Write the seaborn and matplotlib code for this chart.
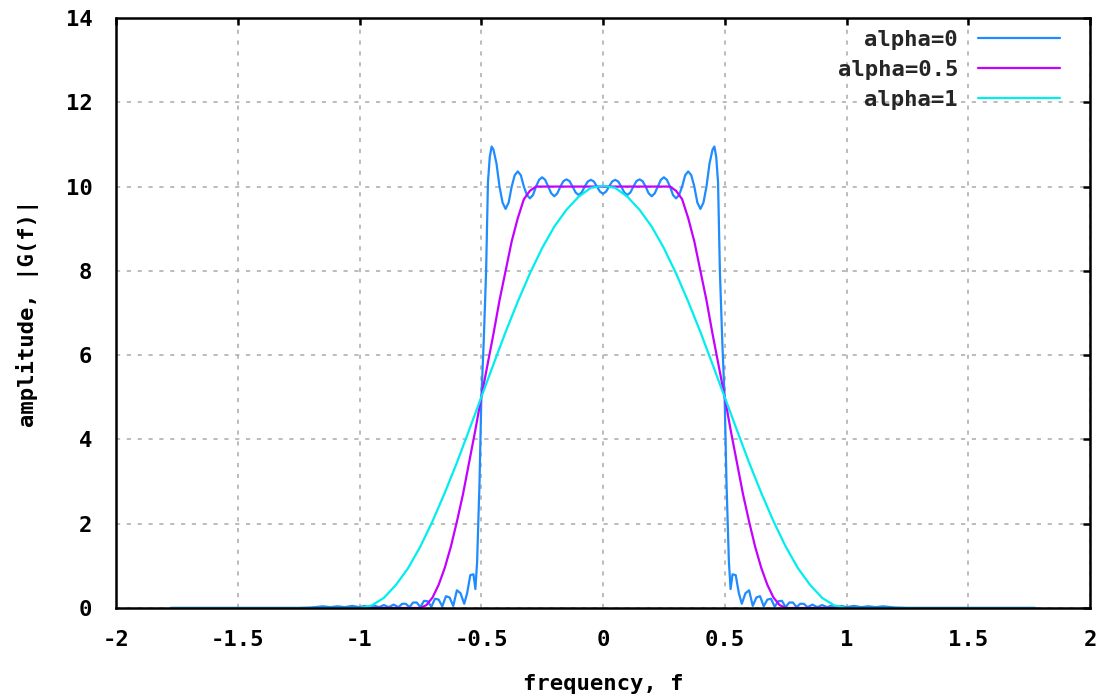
import matplotlib
matplotlib.use("Agg")
import matplotlib.pyplot as plt
import pandas as pd
import seaborn as sns

# ---------------- data ----------------
f_a0 = [-1.775, -1.25, -1.2, -1.15, -1.12, -1.09, -1.06, -1.03, -1.0, -0.98, -0.96, -0.94,
        -0.92, -0.9, -0.88, -0.86, -0.84, -0.825, -0.81, -0.795, -0.78, -0.765, -0.75,
        -0.735, -0.72, -0.705, -0.69, -0.675, -0.66, -0.645, -0.63, -0.615, -0.6, -0.585,
        -0.57, -0.558, -0.545, -0.532, -0.524, -0.517, -0.507, -0.5, -0.49, -0.48, -0.4725,
        -0.465, -0.4575, -0.45, -0.4375, -0.425, -0.4125, -0.4, -0.3875, -0.375, -0.3625,
        -0.35, -0.3375, -0.325, -0.3125, -0.3, -0.2875, -0.275, -0.2625, -0.25, -0.2375,
        -0.225, -0.2125, -0.2, -0.1875, -0.175, -0.1625, -0.15, -0.1375, -0.125, -0.1125,
        -0.1, -0.0875, -0.075, -0.0625, -0.05, -0.0375, -0.025, -0.0125, 0.0,
        0.0125, 0.025, 0.0375, 0.05, 0.0625, 0.075, 0.0875, 0.1, 0.1125, 0.125, 0.1375,
        0.15, 0.1625, 0.175, 0.1875, 0.2, 0.2125, 0.225, 0.2375, 0.25, 0.2625, 0.275,
        0.2875, 0.3, 0.3125, 0.325, 0.3375, 0.35, 0.3625, 0.375, 0.3875, 0.4, 0.4125,
        0.425, 0.4375, 0.45, 0.4575, 0.465, 0.4725, 0.48, 0.49, 0.5, 0.507, 0.517, 0.524,
        0.532, 0.545, 0.558, 0.57, 0.585, 0.6, 0.615, 0.63, 0.645, 0.66, 0.675, 0.69,
        0.705, 0.72, 0.735, 0.75, 0.765, 0.78, 0.795, 0.81, 0.825, 0.84, 0.86, 0.88, 0.9,
        0.92, 0.94, 0.96, 0.98, 1.0, 1.03, 1.06, 1.09, 1.12, 1.15, 1.2, 1.25, 1.775]
amp_a0 = [0.0, 0.0, 0.01, 0.04, 0.02, 0.04, 0.02, 0.05, 0.02, 0.05, 0.02, 0.06, 0.02, 0.07,
          0.02, 0.08, 0.02, 0.1, 0.1, 0.02, 0.13, 0.13, 0.02, 0.17, 0.16, 0.03, 0.22, 0.2,
          0.04, 0.28, 0.25, 0.05, 0.42, 0.35, 0.1, 0.35, 0.78, 0.8, 0.45, 1.1, 3.0, 4.9,
          6.3, 8.0, 10.1, 10.7, 10.95, 10.88, 10.55, 10.0, 9.62, 9.47, 9.62, 10.0, 10.27,
          10.36, 10.27, 10.0, 9.8, 9.72, 9.8, 10.0, 10.16, 10.22, 10.16, 10.0, 9.84, 9.77,
          9.84, 10.0, 10.13, 10.17, 10.13, 10.0, 9.86, 9.80, 9.86, 10.0, 10.12, 10.16,
          10.12, 10.0, 9.88, 9.83,
          9.88, 10.0, 10.12, 10.16, 10.12, 10.0, 9.86, 9.80, 9.86, 10.0, 10.13, 10.17,
          10.13, 10.0, 9.84, 9.77, 9.84, 10.0, 10.16, 10.22, 10.16, 10.0, 9.8, 9.72, 9.8,
          10.0, 10.27, 10.36, 10.27, 10.0, 9.62, 9.47, 9.62, 10.0, 10.55, 10.88, 10.95,
          10.7, 10.1, 8.0, 6.3, 4.9, 3.0, 1.1, 0.45, 0.8, 0.78, 0.35, 0.1, 0.35, 0.42,
          0.05, 0.25, 0.28, 0.04, 0.2, 0.22, 0.03, 0.16, 0.17, 0.02, 0.13, 0.13, 0.02, 0.1,
          0.1, 0.02, 0.08, 0.02, 0.07, 0.02, 0.06, 0.02, 0.05, 0.02, 0.05, 0.02, 0.04,
          0.02, 0.04, 0.01, 0.0, 0.0]

f_a05 = [-1.775, -0.75, -0.725, -0.7, -0.675, -0.65, -0.625, -0.6, -0.575, -0.55, -0.525,
         -0.5, -0.475, -0.45, -0.425, -0.4, -0.375, -0.35, -0.325, -0.3, -0.275,
         0.275, 0.3, 0.325, 0.35, 0.375, 0.4, 0.425, 0.45, 0.475, 0.5, 0.525, 0.55,
         0.575, 0.6, 0.625, 0.65, 0.675, 0.7, 0.725, 0.75, 1.775]
amp_a05 = [0.0, 0.0, 0.07, 0.25, 0.55, 0.95, 1.45, 2.05, 2.7, 3.45, 4.2, 5.0, 5.75, 6.5,
           7.3, 8.0, 8.7, 9.25, 9.7, 9.9, 10.0,
           10.0, 9.9, 9.7, 9.25, 8.7, 8.0, 7.3, 6.5, 5.75, 5.0, 4.2, 3.45, 2.7, 2.05,
           1.45, 0.95, 0.55, 0.25, 0.07, 0.0, 0.0]

f_a1 = [-1.775, -1.0, -0.95, -0.9, -0.85, -0.8, -0.75, -0.7, -0.65, -0.6, -0.55, -0.5,
        -0.45, -0.4, -0.35, -0.3, -0.25, -0.2, -0.15, -0.1, -0.05, 0.0, 0.05, 0.1, 0.15,
        0.2, 0.25, 0.3, 0.35, 0.4, 0.45, 0.5, 0.55, 0.6, 0.65, 0.7, 0.75, 0.8, 0.85,
        0.9, 0.95, 1.0, 1.775]
amp_a1 = [0.0, 0.0, 0.06, 0.24, 0.55, 0.95, 1.46, 2.06, 2.73, 3.45, 4.22, 5.0, 5.78, 6.55,
          7.27, 7.94, 8.54, 9.05, 9.45, 9.76, 9.97, 10.02, 9.97, 9.76, 9.45, 9.05, 8.54,
          7.94, 7.27, 6.55, 5.78, 5.0, 4.22, 3.45, 2.73, 2.06, 1.46, 0.95, 0.55, 0.24,
          0.06, 0.0, 0.0]

series_names = ["alpha=0", "alpha=0.5", "alpha=1"]
series_colors = ["#1E8CFF", "#C400FF", "#00EEEE"]
x_ticks = [-2, -1.5, -1, -0.5, 0, 0.5, 1, 1.5, 2]
x_tick_labels = ["-2", "-1.5", "-1", "-0.5", "0", "0.5", "1", "1.5", "2"]
y_ticks = [0, 2, 4, 6, 8, 10, 12, 14]
y_tick_labels = ["0", "2", "4", "6", "8", "10", "12", "14"]
x_label = "frequency, f"
y_label = "amplitude, |G(f)|"

# ---------------- build long-form table ----------------
df = pd.concat([
    pd.DataFrame({"f": f_a0, "amp": amp_a0, "series": series_names[0]}),
    pd.DataFrame({"f": f_a05, "amp": amp_a05, "series": series_names[1]}),
    pd.DataFrame({"f": f_a1, "amp": amp_a1, "series": series_names[2]}),
], ignore_index=True)

sns.set_theme(style="white")
plt.rcParams["font.family"] = ["DejaVu Sans Mono", "DejaVu Sans"]
plt.rcParams["font.weight"] = "bold"
plt.rcParams["axes.unicode_minus"] = False

W, H = 1106, 700
fig = plt.figure(figsize=(W / 100, H / 100), dpi=100)
ax = fig.add_axes([116 / W, 1 - 608 / H, (1090 - 116) / W, (608 - 18) / H])

sns.lineplot(data=df, x="f", y="amp", hue="series", hue_order=series_names,
             palette=series_colors, sort=False, estimator=None, linewidth=1.6, ax=ax)

ax.set_xlim(-2, 2)
ax.set_ylim(0, 14)
ax.set_xticks(x_ticks)
ax.set_xticklabels(x_tick_labels)
ax.set_yticks(y_ticks)
ax.set_yticklabels(y_tick_labels)

fs = 16
ax.tick_params(axis="both", direction="in", top=True, right=True, length=5, width=1.8,
               color="black", labelsize=fs, labelcolor="black")
ax.tick_params(axis="y", pad=17)
ax.tick_params(axis="x", pad=16)
ax.set_xlabel(x_label, fontsize=fs, fontweight="bold", labelpad=17, color="black")
ax.set_ylabel(y_label, fontsize=fs, fontweight="bold", labelpad=19, color="black")

ax.grid(True, color="#b0b0b0", linestyle=(0, (2.5, 4)), linewidth=1.2)
for s in ax.spines.values():
    s.set_visible(True)
    s.set_color("black")
    s.set_linewidth(1.8)

handles, labels = ax.get_legend_handles_labels()
leg = ax.legend(handles, labels, loc="upper right", bbox_to_anchor=(0.982, 1.0),
                frameon=False, markerfirst=False, handlelength=3.7, handletextpad=0.9,
                labelspacing=0.45, fontsize=fs, borderaxespad=0.15)
for t in leg.get_texts():
    t.set_fontweight("bold")

fig.savefig("out.png", dpi=100)
